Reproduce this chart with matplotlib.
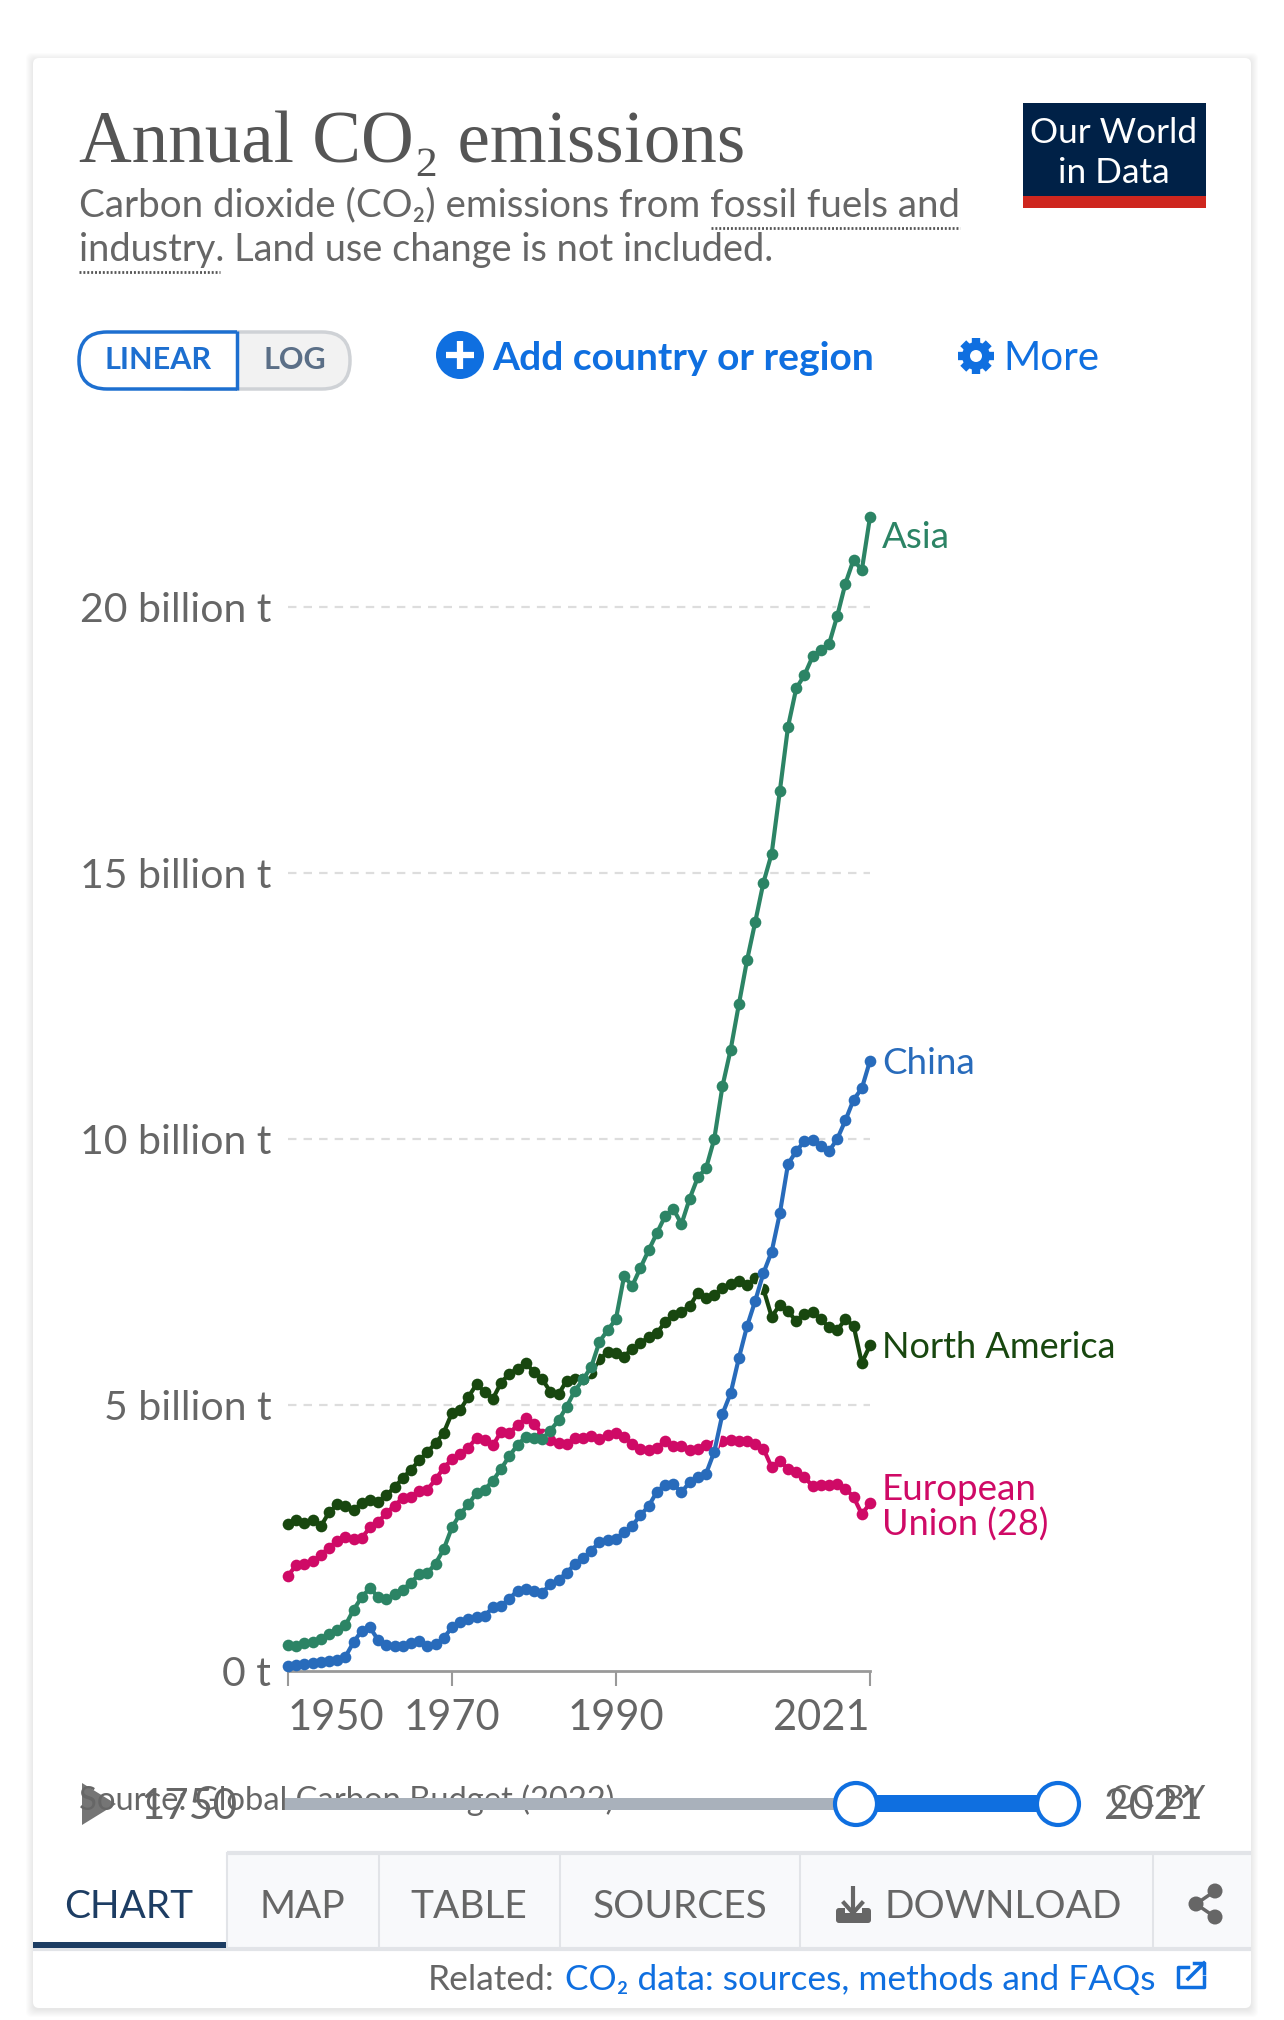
# coding: utf-8

"""
Annual CO2 emissions (Our World in Data のチャート画面)
"""

import numpy as np
import matplotlib
matplotlib.use("Agg")
import matplotlib.pyplot as plt
from matplotlib.patches import FancyBboxPatch, Rectangle, Circle, Polygon
import matplotlib.patheffects as pe

plt.rcParams["font.family"] = ["Lato", "DejaVu Sans"]

# データ (billion t)
years = np.arange(1950, 2022)
north_america = [2.76, 2.84, 2.78, 2.84, 2.72, 2.98, 3.13, 3.11, 3.03, 3.15,
                 3.21, 3.18, 3.31, 3.45, 3.63, 3.78, 3.96, 4.12, 4.28, 4.48,
                 4.85, 4.91, 5.15, 5.39, 5.24, 5.12, 5.42, 5.59, 5.68, 5.79,
                 5.62, 5.49, 5.25, 5.20, 5.46, 5.49, 5.49, 5.61, 5.86, 5.99,
                 5.97, 5.91, 6.06, 6.16, 6.28, 6.35, 6.56, 6.69, 6.75, 6.86,
                 7.10, 7.01, 7.06, 7.20, 7.28, 7.33, 7.25, 7.38, 7.18, 6.66,
                 6.88, 6.76, 6.58, 6.71, 6.75, 6.61, 6.46, 6.41, 6.61, 6.49,
                 5.79, 6.12]
european_union = [1.79, 1.99, 2.02, 2.06, 2.18, 2.32, 2.44, 2.51, 2.48, 2.50,
                  2.70, 2.80, 2.97, 3.11, 3.25, 3.28, 3.38, 3.41, 3.60, 3.82,
                  3.98, 4.08, 4.20, 4.38, 4.34, 4.24, 4.50, 4.47, 4.62, 4.75,
                  4.65, 4.45, 4.35, 4.28, 4.27, 4.38, 4.38, 4.42, 4.37, 4.44,
                  4.47, 4.40, 4.27, 4.18, 4.16, 4.20, 4.32, 4.23, 4.22, 4.15,
                  4.18, 4.24, 4.25, 4.32, 4.34, 4.32, 4.32, 4.27, 4.18, 3.83,
                  3.95, 3.80, 3.75, 3.65, 3.47, 3.50, 3.50, 3.51, 3.43, 3.27,
                  2.95, 3.15]
asia = [0.49, 0.47, 0.52, 0.55, 0.60, 0.70, 0.77, 0.86, 1.15, 1.39,
        1.56, 1.39, 1.35, 1.44, 1.53, 1.66, 1.82, 1.84, 2.02, 2.29,
        2.70, 2.95, 3.13, 3.35, 3.41, 3.58, 3.80, 4.04, 4.25, 4.40,
        4.38, 4.36, 4.52, 4.71, 4.97, 5.27, 5.48, 5.72, 6.19, 6.41,
        6.61, 7.42, 7.24, 7.58, 7.91, 8.23, 8.55, 8.69, 8.40, 8.88,
        9.28, 9.45, 10.00, 10.99, 11.68, 12.53, 13.36, 14.08, 14.82, 15.36,
        16.54, 17.75, 18.47, 18.72, 19.07, 19.20, 19.30, 19.83, 20.44, 20.89,
        20.69, 21.69]
china = [0.10, 0.11, 0.13, 0.15, 0.17, 0.19, 0.21, 0.27, 0.54, 0.76,
         0.82, 0.58, 0.48, 0.47, 0.47, 0.52, 0.57, 0.47, 0.50, 0.62,
         0.82, 0.92, 0.98, 1.02, 1.04, 1.20, 1.22, 1.36, 1.51, 1.54,
         1.51, 1.47, 1.63, 1.71, 1.85, 2.01, 2.12, 2.26, 2.43, 2.46,
         2.49, 2.61, 2.73, 2.93, 3.10, 3.37, 3.50, 3.51, 3.36, 3.55,
         3.65, 3.71, 4.12, 4.83, 5.22, 5.88, 6.48, 6.96, 7.48, 7.88,
         8.60, 9.53, 9.77, 9.96, 9.99, 9.87, 9.77, 10.00, 10.35, 10.74,
         10.95, 11.47]

y_ticks = [0, 5, 10, 15, 20]
y_labels = ["0 t", "5 billion t", "10 billion t", "15 billion t", "20 billion t"]
x_ticks = [1950, 1970, 1990, 2021]

W, H = 1284, 2020
GREY = "#666666"
BLUE = "#0f6fe0"
NAVY = "#1d3d63"
GREEN = "#2c8465"
CHINA_BLUE = "#286bbb"
DARK = "#18470f"
PINK = "#cf0a66"

fig = plt.figure(figsize=(W / 100, H / 100), dpi=100, facecolor="white")

# 画面部品はピクセル座標の全面 axes に描く
ui = fig.add_axes([0, 0, 1, 1], zorder=0)
ui.set_xlim(0, W)
ui.set_ylim(H, 0)
ui.axis("off")

# カードと影
for i in range(8):
    ui.add_patch(FancyBboxPatch((33 - i, 58 + 2 - i), 1218 + 2 * i, 1950 + 2 * i,
                                boxstyle="round,pad=0,rounding_size=6",
                                fc="black", ec="none", alpha=0.012))
ui.add_patch(FancyBboxPatch((33, 58), 1218, 1950, boxstyle="round,pad=0,rounding_size=6",
                            fc="white", ec="none"))

# タイトル
ui.text(79, 144, "Annual CO₂ emissions", family=["Liberation Serif", "DejaVu Sans"],
        fontsize=52.6, color="#555555", va="center")
ui.text(79, 205, "Carbon dioxide (CO₂) emissions from fossil fuels and", fontsize=27.7,
        color=GREY, va="center")
ui.text(79, 250, "industry. Land use change is not included.", fontsize=27.4,
        color=GREY, va="center")
ui.plot([711, 960], [228, 228], color="#555555", lw=2, ls=(0, (0.7, 0.7)))
ui.plot([79, 220], [272, 272], color="#555555", lw=2, ls=(0, (0.7, 0.7)))

# ロゴ
ui.add_patch(Rectangle((1023, 103), 183, 93, fc="#002147", ec="none"))
ui.add_patch(Rectangle((1023, 196), 183, 12, fc="#ce261e", ec="none"))
ui.text(1114, 133, "Our World", fontsize=25.4, color="white", ha="center", va="center")
ui.text(1114, 173, "in Data", fontsize=25.4, color="white", ha="center", va="center")

# LINEAR / LOG
ui.add_patch(FancyBboxPatch((160, 332), 190, 57, boxstyle="round,pad=0,rounding_size=28",
                            fc="#f2f2f2", ec="#cfd2d6", lw=2.5))
linear = FancyBboxPatch((79, 332), 210, 57, boxstyle="round,pad=0,rounding_size=28",
                        fc="white", ec="#1d6fd0", lw=2.5)
ui.add_patch(linear)
linear.set_clip_path(Rectangle((70, 320), 167, 80, transform=ui.transData))
ui.plot([237, 237], [331, 390], color="#1d6fd0", lw=2.5, solid_capstyle="butt")
ui.text(158, 360, "LINEAR", fontsize=22, color="#1d6fd0", ha="center", va="center",
        fontweight="bold")
ui.text(295, 360, "LOG", fontsize=22, color="#5b6f87", ha="center", va="center",
        fontweight="bold")

# Add country
ui.add_patch(Circle((460, 355), 24, fc=BLUE, ec="none"))
ui.plot([446, 474], [355, 355], color="white", lw=4.5, solid_capstyle="butt")
ui.plot([460, 460], [341, 369], color="white", lw=4.5, solid_capstyle="butt")
ui.text(492, 359, "Add country or region", fontsize=28.1, color=BLUE, va="center",
        fontweight="bold")

# More
for a in np.deg2rad(np.arange(0, 180, 45)):
    ui.plot([976 - 18 * np.cos(a), 976 + 18 * np.cos(a)],
            [356 - 18 * np.sin(a), 356 + 18 * np.sin(a)],
            color=BLUE, lw=6, solid_capstyle="butt")
ui.add_patch(Circle((976, 356), 14, fc=BLUE, ec="none", zorder=3))
ui.add_patch(Circle((976, 356), 6, fc="white", ec="none", zorder=4))
ui.text(1003, 359, "More", fontsize=29, color=BLUE, va="center")

# 系列ラベル
ui.text(882, 538, "Asia", fontsize=26.5, color=GREEN, va="center")
ui.text(882, 1063, "China", fontsize=26.5, color=CHINA_BLUE, va="center")
ui.text(882, 1347, "North America", fontsize=26, color=DARK, va="center")
ui.text(882, 1489, "European", fontsize=26.5, color=PINK, va="center")
ui.text(882, 1525, "Union (28)", fontsize=26, color=PINK, va="center")

# フッタ (スライダーの下に隠れている)
ui.text(79, 1800, "Source: Global Carbon Budget (2022)", fontsize=23.6, color=GREY,
        va="center", zorder=1)
ui.text(1205, 1800, "CC BY", fontsize=24, color=GREY, va="center", ha="right", zorder=1)

# スライダー
ui.add_patch(Polygon([(82, 1783), (116, 1804), (82, 1825)], fc="#666666", ec="none",
                     alpha=0.9, zorder=2))
ui.text(141, 1807, "1750", fontsize=30.2, color=GREY, va="center", zorder=4)
ui.text(1203, 1807, "2021", fontsize=30.6, color=GREY, va="center", ha="right", zorder=4)
ui.add_patch(Rectangle((285, 1798), 571, 12, fc="#a9b1bb", ec="none", zorder=2))
ui.add_patch(Rectangle((856, 1795), 202, 17, fc="#0f6fe0", ec="none", zorder=2))
for cx in [856, 1058]:
    ui.add_patch(Circle((cx, 1804), 21, fc="white", ec="#0f6fe0", lw=3, zorder=3))

# タブ
ui.add_patch(Rectangle((227, 1853), 1024, 94, fc="#f8f9fb", ec="none"))
ui.plot([227, 1251], [1853, 1853], color="#e2e4e8", lw=3, solid_capstyle="butt")
ui.plot([33, 1251], [1949, 1949], color="#e2e4e8", lw=3, solid_capstyle="butt")
for sx in [227, 379, 560, 800, 1153]:
    ui.plot([sx, sx], [1853, 1947], color="#e2e4e8", lw=1.5)
ui.add_patch(Rectangle((33, 1942), 193, 6, fc=NAVY, ec="none", zorder=3))
ui.text(129, 1907, "CHART", fontsize=28, color=NAVY, ha="center", va="center")
ui.text(302, 1907, "MAP", fontsize=28, color=GREY, ha="center", va="center")
ui.text(469, 1907, "TABLE", fontsize=28, color=GREY, ha="center", va="center")
ui.text(680, 1907, "SOURCES", fontsize=28, color=GREY, ha="center", va="center")
ui.text(1003, 1907, "DOWNLOAD", fontsize=28, color=GREY, ha="center", va="center")

# DOWNLOAD アイコン
ui.add_patch(FancyBboxPatch((836, 1908), 35, 15, boxstyle="round,pad=0,rounding_size=3",
                            fc=GREY, ec="none"))
ui.add_patch(Rectangle((845, 1904), 17, 9, fc="#f8f9fb", ec="none"))
ui.plot([853, 853], [1886, 1910], color=GREY, lw=3, solid_capstyle="butt")
ui.plot([844, 853, 862], [1903, 1913, 1903], color=GREY, lw=3)

# 共有アイコン
ui.plot([1215, 1196, 1215], [1891, 1904, 1917], color=GREY, lw=2.5)
for sx, sy, r in [(1215, 1891, 7.5), (1196, 1904, 7.5), (1215, 1917, 7.5)]:
    ui.add_patch(Circle((sx, sy), r, fc=GREY, ec="none"))

# Related
ui.text(428, 1980, "Related:", fontsize=25.4, color=GREY, va="center")
ui.text(565, 1980, "CO₂ data: sources, methods and FAQs", fontsize=25.4, color=BLUE, va="center")
ui.plot([1188, 1178, 1178, 1204, 1204], [1967, 1967, 1987, 1987, 1977], color=BLUE, lw=2.5)
ui.plot([1188, 1204], [1979, 1963], color=BLUE, lw=2.5)
ui.plot([1194, 1204, 1204], [1963, 1963, 1973], color=BLUE, lw=2.5)

# グラフ本体
ymax = 22
ax = fig.add_axes([288 / W, (H - 1671) / H, 582 / W, ymax * 53.2 / H], zorder=1)
ax.patch.set_alpha(0)
ax.set_xlim(1950, 2021)
ax.set_ylim(0, ymax)

z = 3
for series, color in [(european_union, PINK), (north_america, DARK),
                      (asia, GREEN), (china, CHINA_BLUE)]:
    # 線だけ白く縁取り、点は後から重ねる
    ax.plot(years, series, color=color, lw=3, clip_on=False, zorder=z,
            path_effects=[pe.withStroke(linewidth=4.6, foreground="white")])
    ax.plot(years, series, ls="none", color=color, marker="o", ms=8.4, mew=0,
            clip_on=False, zorder=z)
    z += 1

for s in ["top", "left", "right"]:
    ax.spines[s].set_visible(False)
ax.spines["bottom"].set_color("#999999")
ax.spines["bottom"].set_linewidth(2)

ax.set_yticks(y_ticks)
ax.set_yticklabels(y_labels)
ax.tick_params(axis="y", length=0, pad=12, labelsize=29.5, labelcolor=GREY)
ax.set_xticks(x_ticks)
ax.tick_params(axis="x", length=11, width=1.5, color="#999999", pad=9, labelsize=30,
               labelcolor=GREY)
ax.set_xticklabels([str(v) for v in x_ticks])
xlabels = ax.get_xticklabels()
xlabels[0].set_ha("left")
xlabels[-1].set_ha("right")

for v in y_ticks[1:]:
    ax.axhline(v, color="#dddddd", lw=1.6, ls=(0, (3.8, 3.2)), zorder=1)

fig.savefig("out.png", dpi=100)
